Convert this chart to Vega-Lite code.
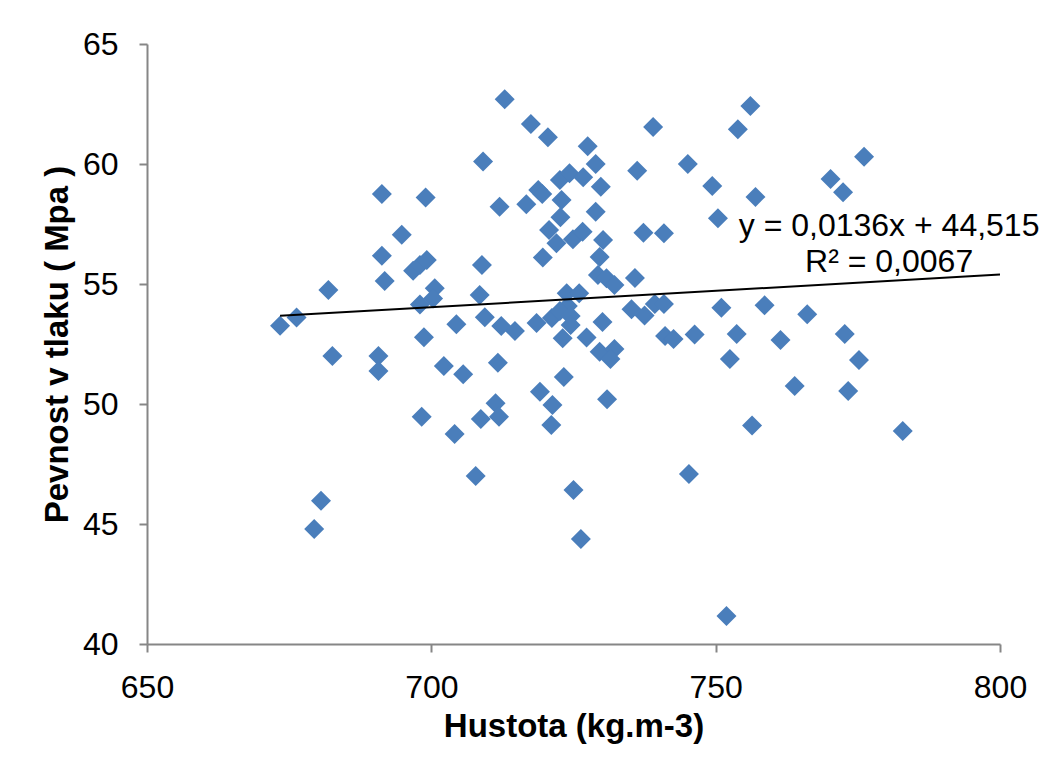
{
  "$schema": "https://vega.github.io/schema/vega-lite/v6.json",
  "width": 853,
  "height": 600,
  "autosize": {"type": "none"},
  "padding": {"left": 147, "top": 44, "right": 45, "bottom": 125},
  "background": "white",
  "config": {
    "view": {"stroke": null},
    "font": "Liberation Sans",
    "axis": {
      "grid": false,
      "domainColor": "#868686",
      "domainWidth": 2,
      "tickColor": "#868686",
      "tickWidth": 2,
      "tickSize": 8,
      "labelColor": "#000000",
      "labelFont": "Liberation Sans",
      "labelFontSize": 32,
      "labelFlush": false,
      "labelOverlap": false,
      "titleColor": "#000000",
      "titleFont": "Liberation Sans",
      "titleFontSize": 33,
      "titleFontWeight": "bold"
    }
  },
  "datasets": {
    "mereni": [
      {"hustota": 673.4, "pevnost": 53.26}, {"hustota": 676.3, "pevnost": 53.6},
      {"hustota": 681.9, "pevnost": 54.75}, {"hustota": 682.6, "pevnost": 52.0},
      {"hustota": 679.4, "pevnost": 44.79}, {"hustota": 680.6, "pevnost": 45.97},
      {"hustota": 690.7, "pevnost": 52.0}, {"hustota": 690.7, "pevnost": 51.38},
      {"hustota": 691.3, "pevnost": 58.75}, {"hustota": 691.3, "pevnost": 56.18},
      {"hustota": 691.8, "pevnost": 55.12}, {"hustota": 694.8, "pevnost": 57.05},
      {"hustota": 696.8, "pevnost": 55.55}, {"hustota": 698.0, "pevnost": 55.79},
      {"hustota": 699.2, "pevnost": 56.0}, {"hustota": 699.0, "pevnost": 58.6},
      {"hustota": 700.6, "pevnost": 54.82}, {"hustota": 700.3, "pevnost": 54.4},
      {"hustota": 698.0, "pevnost": 54.15}, {"hustota": 698.7, "pevnost": 52.78},
      {"hustota": 698.3, "pevnost": 49.47}, {"hustota": 702.2, "pevnost": 51.58},
      {"hustota": 704.1, "pevnost": 48.75}, {"hustota": 704.4, "pevnost": 53.32},
      {"hustota": 705.6, "pevnost": 51.24}, {"hustota": 707.8, "pevnost": 47.0},
      {"hustota": 708.7, "pevnost": 49.38}, {"hustota": 708.9, "pevnost": 55.79},
      {"hustota": 709.1, "pevnost": 60.1}, {"hustota": 708.5, "pevnost": 54.54},
      {"hustota": 709.4, "pevnost": 53.61}, {"hustota": 711.3, "pevnost": 50.03},
      {"hustota": 711.9, "pevnost": 49.47}, {"hustota": 711.7, "pevnost": 51.72},
      {"hustota": 712.0, "pevnost": 58.22}, {"hustota": 712.9, "pevnost": 62.7},
      {"hustota": 712.3, "pevnost": 53.25}, {"hustota": 714.7, "pevnost": 53.04},
      {"hustota": 717.5, "pevnost": 61.67}, {"hustota": 720.5, "pevnost": 61.11},
      {"hustota": 716.7, "pevnost": 58.32}, {"hustota": 718.8, "pevnost": 58.92},
      {"hustota": 719.5, "pevnost": 58.75}, {"hustota": 719.1, "pevnost": 50.51},
      {"hustota": 721.3, "pevnost": 49.96}, {"hustota": 721.1, "pevnost": 49.13},
      {"hustota": 719.6, "pevnost": 56.1}, {"hustota": 720.7, "pevnost": 57.25},
      {"hustota": 722.0, "pevnost": 56.7}, {"hustota": 722.6, "pevnost": 59.33},
      {"hustota": 724.3, "pevnost": 59.61}, {"hustota": 726.7, "pevnost": 59.45},
      {"hustota": 727.5, "pevnost": 60.74}, {"hustota": 728.9, "pevnost": 60.0},
      {"hustota": 729.8, "pevnost": 59.05}, {"hustota": 722.9, "pevnost": 58.5},
      {"hustota": 722.7, "pevnost": 57.78}, {"hustota": 728.9, "pevnost": 58.01},
      {"hustota": 724.9, "pevnost": 56.86}, {"hustota": 726.6, "pevnost": 57.18},
      {"hustota": 730.2, "pevnost": 56.83}, {"hustota": 729.6, "pevnost": 56.13},
      {"hustota": 729.3, "pevnost": 55.38}, {"hustota": 730.8, "pevnost": 55.24},
      {"hustota": 732.2, "pevnost": 54.96}, {"hustota": 723.8, "pevnost": 54.61},
      {"hustota": 726.0, "pevnost": 54.61}, {"hustota": 724.0, "pevnost": 54.08},
      {"hustota": 718.5, "pevnost": 53.38}, {"hustota": 721.2, "pevnost": 53.58},
      {"hustota": 722.6, "pevnost": 53.88}, {"hustota": 724.5, "pevnost": 53.67},
      {"hustota": 724.5, "pevnost": 53.29}, {"hustota": 723.1, "pevnost": 52.74},
      {"hustota": 727.3, "pevnost": 52.77}, {"hustota": 730.1, "pevnost": 53.42},
      {"hustota": 729.6, "pevnost": 52.18}, {"hustota": 732.2, "pevnost": 52.29},
      {"hustota": 731.5, "pevnost": 51.88}, {"hustota": 723.3, "pevnost": 51.13},
      {"hustota": 730.9, "pevnost": 50.2}, {"hustota": 725.0, "pevnost": 46.42},
      {"hustota": 726.3, "pevnost": 44.38}, {"hustota": 735.8, "pevnost": 55.25},
      {"hustota": 735.2, "pevnost": 53.95}, {"hustota": 737.5, "pevnost": 53.69},
      {"hustota": 739.3, "pevnost": 54.17}, {"hustota": 740.9, "pevnost": 54.17},
      {"hustota": 741.1, "pevnost": 52.83}, {"hustota": 742.6, "pevnost": 52.71},
      {"hustota": 746.3, "pevnost": 52.9}, {"hustota": 739.0, "pevnost": 61.54},
      {"hustota": 736.2, "pevnost": 59.72}, {"hustota": 737.3, "pevnost": 57.14},
      {"hustota": 740.9, "pevnost": 57.11}, {"hustota": 745.1, "pevnost": 60.0},
      {"hustota": 749.4, "pevnost": 59.08}, {"hustota": 750.4, "pevnost": 57.74},
      {"hustota": 745.3, "pevnost": 47.08}, {"hustota": 751.0, "pevnost": 54.01},
      {"hustota": 752.5, "pevnost": 51.88}, {"hustota": 753.7, "pevnost": 52.92},
      {"hustota": 753.9, "pevnost": 61.45}, {"hustota": 756.1, "pevnost": 62.42},
      {"hustota": 757.0, "pevnost": 58.63}, {"hustota": 758.6, "pevnost": 54.11},
      {"hustota": 756.4, "pevnost": 49.1}, {"hustota": 751.9, "pevnost": 41.17},
      {"hustota": 766.1, "pevnost": 53.74}, {"hustota": 761.4, "pevnost": 52.67},
      {"hustota": 772.7, "pevnost": 52.92}, {"hustota": 775.2, "pevnost": 51.83},
      {"hustota": 763.9, "pevnost": 50.75}, {"hustota": 773.3, "pevnost": 50.54},
      {"hustota": 782.9, "pevnost": 48.88}, {"hustota": 776.1, "pevnost": 60.3},
      {"hustota": 770.2, "pevnost": 59.38}, {"hustota": 772.4, "pevnost": 58.82}
    ],
    "trend": [
      {"hustota": 673.4, "pevnost": 53.673},
      {"hustota": 800, "pevnost": 55.395}
    ],
    "rovnice": [
      {"hustota": 780.5, "pevnost": 57.4, "text": "y = 0,0136x + 44,515\nR² = 0,0067"}
    ]
  },
  "layer": [
    {
      "data": {"name": "mereni"},
      "mark": {"type": "point", "shape": "diamond", "filled": true, "size": 400, "color": "#4A7EBB", "opacity": 1},
      "encoding": {
        "x": {
          "field": "hustota", "type": "quantitative",
          "scale": {"domain": [650, 800], "nice": false, "zero": false},
          "axis": {"title": "Hustota (kg.m-3)", "values": [650, 700, 750, 800], "format": "d", "labelPadding": 20, "titlePadding": 7}
        },
        "y": {
          "field": "pevnost", "type": "quantitative",
          "scale": {"domain": [40, 65], "nice": false, "zero": false},
          "axis": {"title": "Pevnost v tlaku ( Mpa )", "values": [40, 45, 50, 55, 60, 65], "format": "d", "labelPadding": 21, "titlePadding": 8}
        }
      }
    },
    {
      "data": {"name": "trend"},
      "mark": {"type": "line", "color": "#000000", "strokeWidth": 2},
      "encoding": {
        "x": {"field": "hustota", "type": "quantitative"},
        "y": {"field": "pevnost", "type": "quantitative"}
      }
    },
    {
      "data": {"name": "rovnice"},
      "mark": {"type": "text", "align": "center", "baseline": "middle", "fontSize": 32, "lineHeight": 36, "lineBreak": "\n", "color": "#000000", "font": "Liberation Sans"},
      "encoding": {
        "x": {"field": "hustota", "type": "quantitative"},
        "y": {"field": "pevnost", "type": "quantitative"},
        "text": {"field": "text", "type": "nominal"}
      }
    }
  ]
}
